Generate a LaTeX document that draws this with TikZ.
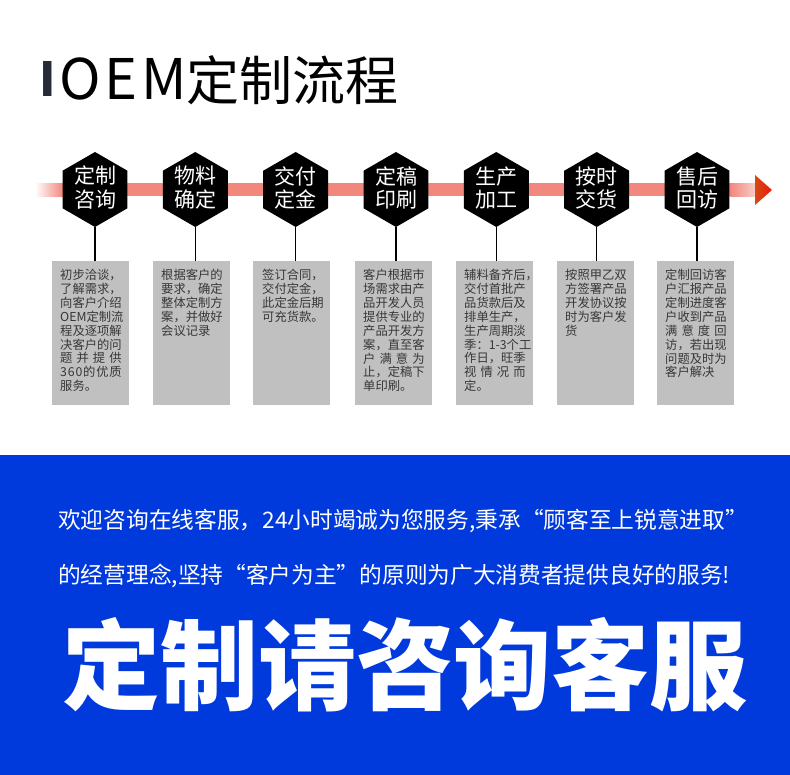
\documentclass[tikz,border=0pt]{standalone}
\usepackage{fontspec}
\setmainfont{Noto Sans CJK SC}
\usetikzlibrary{shapes.geometric}
\definecolor{salmon}{RGB}{242,135,125}
\definecolor{boxgray}{RGB}{192,192,192}
\definecolor{blueb}{RGB}{0,58,221}
\definecolor{boxtext}{RGB}{55,55,55}
\definecolor{ibar}{RGB}{40,42,55}
\definecolor{arrowL}{RGB}{210,75,20}
\definecolor{arrowR}{RGB}{240,25,10}
\newcommand{\jline}[1]{\makebox[61.5pt][s]{#1}}
\tikzset{
 hexa/.style={regular polygon, regular polygon sides=6, shape border rotate=30, minimum size=75pt, inner sep=0pt, fill=black, draw=none},
 hexlabel/.style={text=white, align=center, inner sep=0pt, font=\fontsize{21}{23.5}\selectfont},
 infobox/.style={rectangle, fill=boxgray, minimum width=77pt, minimum height=144pt, inner sep=0pt, anchor=north west},
 infotext/.style={anchor=north west, inner sep=0pt, align=left, text=boxtext, font=\fontsize{12.3}{13.9}\selectfont},
 conn/.style={draw=black, line width=1.3pt},
 bluetext/.style={anchor=west, inner sep=0pt, text=white, font=\fontsize{22.7}{22.7}\selectfont},
}
\begin{document}
\begin{tikzpicture}[x=1pt,y=-1pt]
\useasboundingbox (0,0) rectangle (790,775);
\fill[white] (0,0) rectangle (790,775);
% title
\node[anchor=base west, inner sep=0pt, text=ibar, font=\bfseries\fontsize{47}{47}\selectfont] (ti) at (39,96.7) {I};
\node[anchor=base west, inner sep=0pt, font=\fontsize{56}{56}\selectfont] (toem) at (59,100) {O\kern4pt E\kern4pt M};
\node[anchor=base west, inner sep=0pt, font=\fontsize{53}{53}\selectfont] (tcn) at (186,101) {定制流程};
% main line
\shade[left color=white, right color=salmon] (35,183.5) rectangle (63,196.5);
\fill[salmon] (62,183.5) rectangle (731,196.5);
\shade[left color=salmon, right color=white!75!salmon] (730,183.5) rectangle (763,196.5);
\coordinate (atop) at (755,175);
\coordinate (atip) at (772,190);
\coordinate (abot) at (755,205);
\shade[left color=arrowL, right color=arrowR] (atop) -- (atip) -- (abot) -- cycle;
% hexagons
\foreach \i/\x/\la/\lb in {1/95/定制/咨询, 2/195.3/物料/确定, 3/295.7/交付/定金, 4/396/定稿/印刷, 5/496.3/生产/加工, 6/596.7/按时/交货, 7/697/售后/回访}{
  \node[hexa] (h\i) at (\x,189.5) {};
  \node[hexlabel] (hl\i) at (\x,187.8) {\la\\\lb};
}
% boxes
\foreach \i/\bx in {1/52, 2/153, 3/253, 4/355, 5/456, 6/557, 7/657}{
  \node[infobox] (b\i) at (\bx,261) {};
  \draw[conn] (h\i.-90) -- (h\i.-90 |- b\i.north);
}
\node[infotext] (t1) at (60,269) {初步洽谈，\\了解需求，\\向客户介绍\\OEM定制流\\程及逐项解\\决客户的问\\\jline{题\hfil 并\hfil 提\hfil 供}\\\jline{3\hfil 6\hfil 0\hfil 的\hfil 优\hfil 质}\\服务。};
\node[infotext] (t2) at (161,269) {根据客户的\\要求，确定\\整体定制方\\案，并做好\\会议记录};
\node[infotext] (t3) at (262,269) {签订合同，\\交付定金，\\此定金后期\\可充货款。};
\node[infotext] (t4) at (363,269) {客户根据市\\场需求由产\\品开发人员\\提供专业的\\产品开发方\\案，直至客\\\jline{户\hfil 满\hfil 意\hfil 为}\\止，定稿下\\单印刷。};
\node[infotext] (t5) at (464,269) {辅料备齐后，\\交付首批产\\品货款后及\\排单生产，\\生产周期淡\\季：1-3个工\\作日，旺季\\\jline{视\hfil 情\hfil 况\hfil 而}\\定。};
\node[infotext] (t6) at (565,269) {按照甲乙双\\方签署产品\\开发协议按\\时为客户发\\货};
\node[infotext] (t7) at (665,269) {定制回访客\\户汇报产品\\定制进度客\\户收到产品\\\jline{满\hfil 意\hfil 度\hfil 回}\\访，若出现\\问题及时为\\客户解决};
% blue section
\fill[blueb] (0,455) rectangle (790,775);
\node[bluetext] (l1) at (58,521) {欢迎咨询在线客服，24小时竭诚为您服务,秉承“顾客至上锐意进取”};
\node[bluetext] (l2) at (58,576) {的经营理念,坚持“客户为主”的原则为广大消费者提供良好的服务!};
\node[text=white, inner sep=0pt, font=\bfseries\fontsize{98}{98}\selectfont] (big) at (405,665) {定制请咨询客服};
\end{tikzpicture}
\end{document}
